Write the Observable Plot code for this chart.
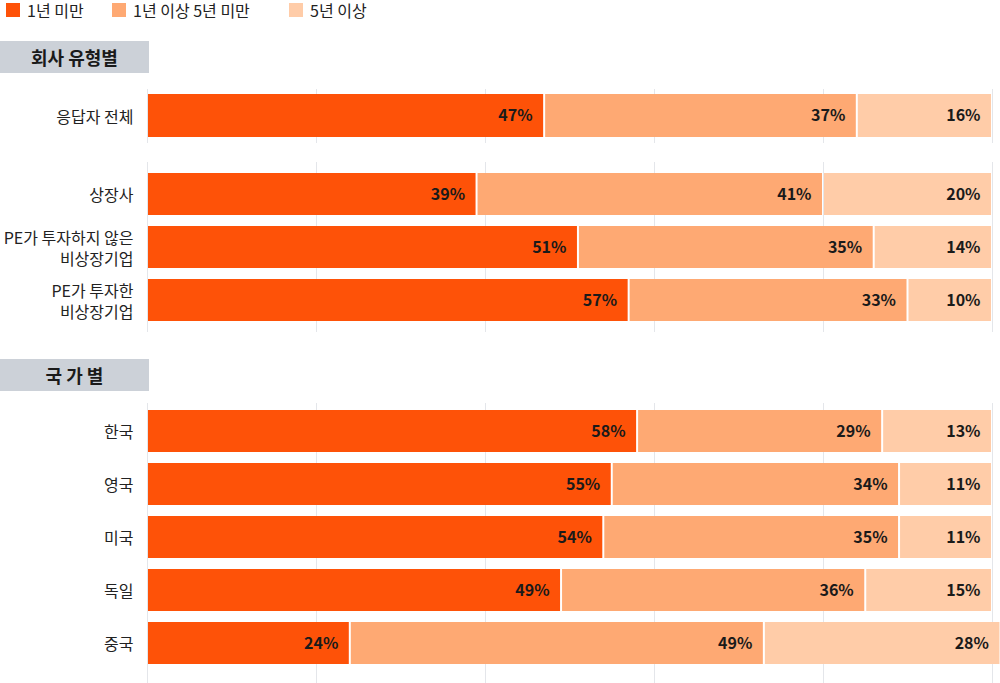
<!DOCTYPE html>
<html>
<head>
<meta charset="utf-8">
<script src="https://cdn.jsdelivr.net/npm/d3@7"></script>
<script src="https://cdn.jsdelivr.net/npm/@observablehq/plot@0.6"></script>
<style>
  body { margin: 0; background: #fff; }
  #chart {
    position: relative; width: 1000px; height: 683px; overflow: hidden;
    font-family: "Noto Sans CJK KR", "Noto Sans", sans-serif; color: #222;
  }
  .legend { position: absolute; top: 0; left: 0; height: 22px; font-size: 16px; }
  .legend .item { position: absolute; top: 0; white-space: nowrap; height: 22px; }
  .legend .sw { position: absolute; top: 3px; width: 14px; height: 14px; }
  .legend .lb { position: absolute; top: 1px; line-height: 18px; }
  .section {
    position: absolute; left: 0; width: 149px; height: 32px; background: #ccd1d8;
    font-size: 18px; font-weight: bold; text-align: center; line-height: 32px; color: #1a1a1a;
  }
  .panel { position: absolute; left: 0; }
  .panel svg { display: block; overflow: visible; }
</style>
</head>
<body>
<div id="chart"></div>
<script>
// Tenure of respondents, share (%) per group
const periods = ["1년 미만", "1년 이상 5년 미만", "5년 이상"];
const colors = ["#fe5208", "#fea973", "#ffcca8"];

const overallLabels = ["응답자 전체"];
const overallValues = [[47, 37, 16]];

const companyLabels = ["상장사", "PE가 투자하지 않은\n비상장기업", "PE가 투자한\n비상장기업"];
const companyValues = [[39, 41, 20], [51, 35, 14], [57, 33, 10]];

const countryLabels = ["한국", "영국", "미국", "독일", "중국"];
const countryValues = [[58, 29, 13], [55, 34, 11], [54, 35, 11], [49, 36, 15], [24, 49, 28]];

const sectionTitles = ["회사 유형별", "국 가 별"];
const gridTicks = [0, 20, 40, 60, 80, 100];

const chart = document.getElementById("chart");

// Legend
const legend = document.createElement("div");
legend.className = "legend";
const legendX = [6, 112, 289];
periods.forEach((p, i) => {
  const item = document.createElement("div");
  item.className = "item";
  item.style.left = legendX[i] + "px";
  item.innerHTML = `<span class="sw" style="left:0;background:${colors[i]}"></span><span class="lb" style="left:21px">${p}</span>`;
  legend.appendChild(item);
});
chart.appendChild(legend);

// Section headers
function section(text, top) {
  const d = document.createElement("div");
  d.className = "section";
  d.style.top = top + "px";
  d.textContent = text;
  chart.appendChild(d);
}

function rows(labels, values) {
  return labels.flatMap((g, i) => values[i].map((v, j) => ({group: g, period: periods[j], value: v})));
}

function panel(labels, values, top, height, paddingOuter, align = 0.5) {
  const data = rows(labels, values);
  const p = Plot.plot({
    width: 1000,
    height,
    marginLeft: 147,
    marginRight: 8,
    marginTop: 0,
    marginBottom: 0,
    x: {domain: [0, 100], axis: null},
    y: {domain: labels, paddingInner: 0.2, paddingOuter, align, axis: null},
    color: {domain: periods, range: colors},
    style: {fontFamily: '"Noto Sans CJK KR", "Noto Sans", sans-serif', fontSize: "16px", color: "#222", background: "transparent"},
    marks: [
      Plot.ruleX(gridTicks, {stroke: "#e4e6ea", strokeWidth: 1}),
      Plot.barX(data, Plot.stackX({x: "value", y: "group", fill: "period", insetLeft: 1, insetRight: 1})),
      Plot.text(data, Plot.stackX2({
        x: "value", y: "group", text: d => d.value + "%",
        textAnchor: "end", dx: -12, fontWeight: "bold", fontSize: 16, fill: "#1a1a1a"
      })),
      Plot.axisY({tickSize: 0, tickPadding: 14, fontSize: 16, lineHeight: 1.35, label: null, fill: "#222"})
    ]
  });
  const wrap = document.createElement("div");
  wrap.className = "panel";
  wrap.style.top = top + "px";
  wrap.appendChild(p);
  chart.appendChild(wrap);
}

section(sectionTitles[0], 41);
panel(overallLabels, overallValues, 89, 54, 0.1);
panel(companyLabels, companyValues, 162, 170, 0.189);
section(sectionTitles[1], 359);
panel(countryLabels, countryValues, 403, 280, 0.2047, 0.273);
</script>
</body>
</html>
